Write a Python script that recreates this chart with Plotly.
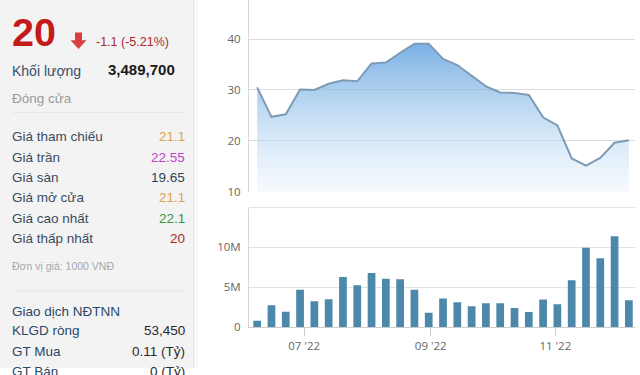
import plotly.graph_objects as go

W, H = 640, 375

dates = ["2022-06-08", "2022-06-15", "2022-06-22", "2022-06-29", "2022-07-06", "2022-07-13",
         "2022-07-20", "2022-07-27", "2022-08-03", "2022-08-10", "2022-08-17", "2022-08-24",
         "2022-08-31", "2022-09-07", "2022-09-14", "2022-09-21", "2022-09-28", "2022-10-05",
         "2022-10-12", "2022-10-19", "2022-10-26", "2022-11-02", "2022-11-09", "2022-11-16",
         "2022-11-23", "2022-11-30", "2022-12-07"]
price = [30.5, 24.7, 25.2, 30.1, 30.0, 31.2, 31.9, 31.7, 35.2, 35.4, 37.3, 39.1, 39.1,
         36.1, 34.9, 32.8, 30.7, 29.5, 29.4, 29.0, 24.6, 23.0, 16.5, 15.1, 16.6, 19.6, 20.1]
volume_m = [0.83, 2.77, 1.94, 4.7, 3.26, 3.5, 6.3, 5.25, 6.8, 6.07, 6.03, 4.7,
            1.82, 3.6, 3.14, 2.64, 3.0, 3.0, 2.4, 1.9, 3.47, 2.9, 5.9, 9.96, 8.64, 11.4, 3.39]
volume = [v * 1e6 for v in volume_m]

price_ticks = [10, 20, 30, 40]
vol_ticks = [0, 5e6, 10e6]
vol_tick_text = ["0", "5M", "10M"]
month_ticks = ["2022-07-01", "2022-09-01", "2022-11-01"]
month_text = ["07 '22", "09 '22", "11 '22"]

rows = [("Giá tham chiếu", "21.1", "#dda24a"),
        ("Giá trần", "22.55", "#c23fc8"),
        ("Giá sàn", "19.65", "#2f4456"),
        ("Giá mở cửa", "21.1", "#dda24a"),
        ("Giá cao nhất", "22.1", "#35963a"),
        ("Giá thấp nhất", "20", "#b32424")]
foreign_rows = [("KLGD ròng", "53,450"), ("GT Mua", "0.11 (Tỷ)"), ("GT Bán", "0 (Tỷ)")]


def px(x):
    return x / W


def py(y):
    return 1 - y / H


fig = go.Figure()
fig.add_trace(go.Scatter(
    x=dates, y=price, mode="lines", xaxis="x", yaxis="y",
    line=dict(color="#7e9bb6", width=2),
    fill="tozeroy",
    fillgradient=dict(type="vertical", start=9, stop=39.5,
                      colorscale=[[0, "rgba(235,244,252,0.35)"], [1, "rgba(98,163,224,0.86)"]]),
    hoverinfo="skip", showlegend=False))
fig.add_trace(go.Bar(
    x=dates, y=volume, xaxis="x2", yaxis="y2",
    marker=dict(color="#4c88a9", line=dict(width=0)),
    hoverinfo="skip", showlegend=False))

tick_font = dict(family="Open Sans", size=11.5, color="#666666")
xr = ["2022-06-04", "2022-12-10"]

shapes = [
    dict(type="rect", xref="paper", yref="paper", x0=0, x1=px(193), y0=0, y1=1,
         fillcolor="#f3f3f3", line=dict(width=0), layer="below"),
    dict(type="rect", xref="paper", yref="paper", x0=px(193), x1=px(198), y0=0, y1=1,
         fillcolor="#f8f8f8", line=dict(width=0), layer="below"),
    dict(type="line", xref="paper", yref="paper", x0=px(193.5), x1=px(193.5), y0=0, y1=1,
         line=dict(color="#e4e4e4", width=1)),
    dict(type="line", xref="paper", yref="paper", x0=px(12), x1=px(184), y0=py(114.5), y1=py(114.5),
         line=dict(color="#e6e6e6", width=1)),
    dict(type="line", xref="paper", yref="paper", x0=px(12), x1=px(184), y0=py(296.5), y1=py(296.5),
         line=dict(color="#e6e6e6", width=1)),
    dict(type="line", xref="paper", yref="paper", x0=px(249), x1=px(635), y0=py(211.5), y1=py(211.5),
         line=dict(color="#e2e2e2", width=1)),
    # down arrow
    dict(type="path", xref="paper", yref="paper",
         path=(f"M {px(75)} {py(33)} L {px(82)} {py(33)} L {px(82)} {py(41)} L {px(86.5)} {py(41)} "
               f"L {px(78.5)} {py(50)} L {px(70.5)} {py(41)} L {px(75)} {py(41)} Z"),
         fillcolor="#d84040", line=dict(width=0)),
]

ann = []


def text(x, y, s, size, color, anchor="left", bold=False, family="Liberation Sans"):
    ann.append(dict(xref="paper", yref="paper", x=px(x), y=py(y), text=(f"<b>{s}</b>" if bold else s),
                    showarrow=False, xanchor=anchor, yanchor="middle", borderpad=0, borderwidth=0,
                    font=dict(family=family, size=size, color=color)))


text(11.5, 32.5, "20", 39.5, "#c41a1a", bold=True)
text(96, 42.5, "-1.1 (-5.21%)", 12.5, "#a82a2a")
text(12, 72, "Khối lượng", 14, "#34506d")
text(175, 71, "3,489,700", 15, "#1a1a1a", anchor="right", bold=True)
text(12, 100, "Đóng cửa", 13.5, "#9a9a9a")
for i, (lab, val, col) in enumerate(rows):
    y = 139.5 + i * 20.7
    text(12, y, lab, 13.5, "#3b4b5c")
    text(185, y, val, 13.5, col, anchor="right")
text(12, 271, "Đơn vị giá: 1000 VNĐ", 10.5, "#a8a8a8")
text(12, 317, "Giao dịch NĐTNN", 13.5, "#2c4868")
for i, (lab, val) in enumerate(foreign_rows):
    y = 337 + i * 21
    text(12, y, lab, 13.5, "#2c4868")
    text(185, y, val, 13.5, "#2a2a2a", anchor="right")

fig.update_layout(
    width=W, height=H, margin=dict(l=0, r=0, t=0, b=0),
    paper_bgcolor="white", plot_bgcolor="rgba(0,0,0,0)",
    bargap=0.46,
    shapes=shapes, annotations=ann,
    xaxis=dict(domain=[px(249), px(635)], range=xr, type="date", anchor="y",
               showticklabels=False, showgrid=False, zeroline=False, showline=False, ticks=""),
    yaxis=dict(domain=[py(195.5), 1], range=[9.93, 47.7], tickvals=price_ticks, anchor="x",
               showgrid=True, gridcolor="#dcdcdc", gridwidth=1, zeroline=False,
               showline=True, linecolor="#d8d8d8", linewidth=1,
               ticks="outside", ticklen=5, tickcolor="rgba(0,0,0,0)", tickfont=tick_font),
    xaxis2=dict(domain=[px(249), px(635)], range=xr, type="date", anchor="y2",
                tickvals=month_ticks, ticktext=month_text, tickfont=tick_font,
                ticks="outside", ticklen=8, tickcolor="#cccccc", tickwidth=1,
                showgrid=False, zeroline=False, showline=True, linecolor="#cccccc", linewidth=1),
    yaxis2=dict(domain=[py(333.5), py(211.5)], range=[0, 15e6], tickvals=vol_ticks,
                ticktext=vol_tick_text, anchor="x2", tickfont=tick_font,
                showgrid=True, gridcolor="#e2e2e2", gridwidth=1, zeroline=False,
                showline=True, linecolor="#d8d8d8", linewidth=1,
                ticks="outside", ticklen=5, tickcolor="rgba(0,0,0,0)"),
)

fig.write_html("out.html")
